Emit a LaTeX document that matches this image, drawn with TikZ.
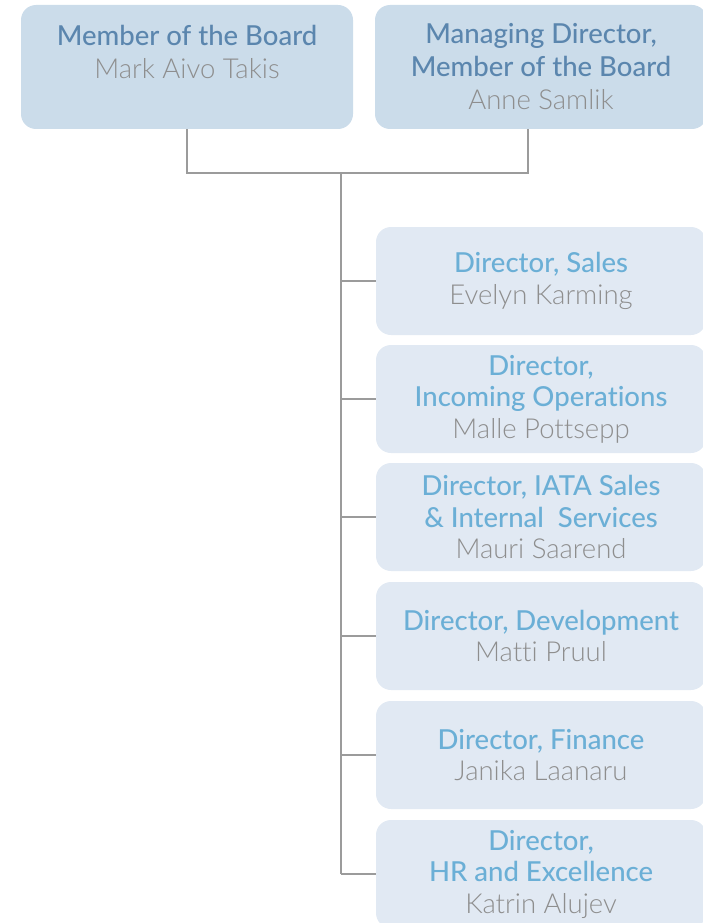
\documentclass[tikz,border=0pt]{standalone}
\usepackage{fontspec}
\setmainfont{Lato Medium}[Ligatures=NoCommon]
\newfontfamily\namefont{Lato Light}[Ligatures=NoCommon]
\usepackage{xcolor}
\usetikzlibrary{positioning}

\definecolor{boardfill}{HTML}{CBDCEA}
\definecolor{boardtext}{HTML}{5B86AE}
\definecolor{dirfill}{HTML}{E1E9F3}
\definecolor{dirtext}{HTML}{6BAFD6}
\definecolor{namegrey}{HTML}{8E8E8E}
\definecolor{linegrey}{HTML}{9B9B9B}

\newcommand{\who}[1]{{\namefont\color{namegrey}#1}}

\begin{document}
\begin{tikzpicture}[x=1pt,y=-1pt,
    board/.style={fill=boardfill, rounded corners=15pt, minimum width=332pt, minimum height=124pt},
    boardlabel/.style={anchor=north, align=center, inner sep=0pt, text=boardtext, font=\fontsize{27.5}{33}\selectfont},
    dirbox/.style={fill=dirfill, rounded corners=15pt, minimum width=330pt, minimum height=108pt,
        align=center, text=dirtext, font=\fontsize{27.5}{31.5}\selectfont},
    wire/.style={draw=linegrey, line width=1.1pt}]
\useasboundingbox (0,0) rectangle (702,923);

% board
\node[board] (mark) at (187,67) {};
\node[board] (anne) at (541,67) {};
\node[boardlabel] (marktxt) at ([yshift=-20pt]mark.north) {Member of the Board\\\who{Mark Aivo Takis}};
\node[boardlabel] (annetxt) at ([yshift=-18pt]anne.north) {Managing Director,\\Member of the Board\\\who{Anne Samlik}};

% directors
\node[dirbox] (sales) at (541,281) {Director, Sales\\\who{Evelyn Karming}};
\node[dirbox] (incoming) at (541,399) {Director,\\Incoming Operations\\\who{Malle Pottsepp}};
\node[dirbox] (iata) at (541,517) {Director, IATA Sales\\\& Internal\ \ Services\\\who{Mauri Saarend}};
\node[dirbox] (devel) at (541,636) {Director, Development\\\who{Matti Pruul}};
\node[dirbox] (finance) at (541,755) {Director, Finance\\\who{Janika Laanaru}};
\node[dirbox] (hr) at (541,874) {Director,\\HR and Excellence\\\who{Katrin Alujev}};

% lines
\coordinate (joint) at (341,173);
\draw[wire] (mark.south) |- (joint) -| ([xshift=-13pt]anne.south);
\draw[wire] (joint) -- (joint |- hr.west);
\foreach \d in {sales,incoming,iata,devel,finance,hr}
    \draw[wire] (joint |- \d.west) -- (\d.west);
\end{tikzpicture}
\end{document}
